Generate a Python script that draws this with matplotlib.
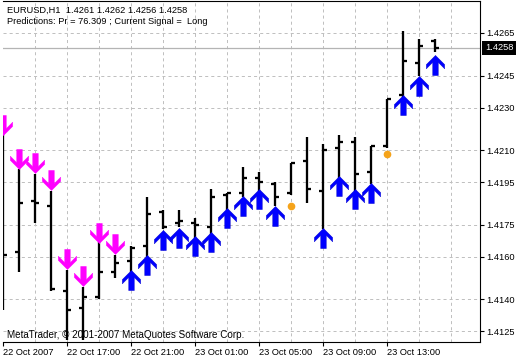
import numpy as np
import matplotlib
matplotlib.use("Agg")
import matplotlib.pyplot as plt
import matplotlib.transforms as mtransforms
from matplotlib.path import Path

plt.rcParams.update({
    "font.family": ["Liberation Sans", "DejaVu Sans"],
    "font.size": 6.7,
    "lines.scale_dashes": False,
})

# ── EURUSD H1 bars, 22 Oct 2007 13:00 onwards ──
opens = [1.4165, 1.4162, 1.4186, 1.4184, 1.4144, 1.4136, 1.4141, 1.4153, 1.4158, 1.4165,
         1.4181, 1.4176, 1.4176, 1.4174, 1.4189, 1.4190, 1.4197, 1.4194, 1.4190, 1.4205,
         1.4191, 1.4211, 1.4214, 1.4200, 1.4212, 1.4236, 1.4251, 1.4261]
highs = [1.4218, 1.4201, 1.4199, 1.4191, 1.4154, 1.4146, 1.4167, 1.4161, 1.4165, 1.4188,
         1.4182, 1.4182, 1.4178, 1.4192, 1.4190, 1.4202, 1.4200, 1.4195, 1.4204, 1.4216,
         1.4213, 1.4217, 1.4216, 1.4212, 1.4234, 1.4266, 1.4262, 1.4262]
lows = [1.4135, 1.4153, 1.4176, 1.4144, 1.4121, 1.4121, 1.4140, 1.4150, 1.4153, 1.4160,
        1.4173, 1.4174, 1.4169, 1.4170, 1.4182, 1.4188, 1.4191, 1.4184, 1.4189, 1.4185,
        1.4173, 1.4196, 1.4191, 1.4194, 1.4211, 1.4235, 1.4245, 1.4256]
closes = [1.4161, 1.4185, 1.4185, 1.4145, 1.4135, 1.4141, 1.4153, 1.4157, 1.4164, 1.4180,
          1.4174, 1.4177, 1.4175, 1.4188, 1.4190, 1.4197, 1.4195, 1.4188, 1.4204, 1.4192,
          1.4210, 1.4214, 1.4199, 1.4212, 1.4234, 1.4252, 1.4259, 1.4258]

nan = np.nan
# short signals (magenta, above bars) and long signals (blue, below bars)
sell_arrows = [1.4222, 1.4206, 1.4204, 1.4196, 1.4159, 1.4151, 1.4171, 1.4166] + [nan] * 20
buy_arrows = [nan] * 8 + [1.4149, 1.4156, 1.4168, 1.4169, 1.4165, 1.4167, 1.4178, 1.4184,
                          1.4187, 1.4179, nan, nan, 1.4169, 1.4193, 1.4187, 1.4190,
                          nan, 1.4231, 1.4240, 1.4250]
dots = [nan] * 18 + [1.4184] + [nan] * 5 + [1.4208] + [nan] * 3

price_ticks = [1.4125, 1.4140, 1.4160, 1.4175, 1.4195, 1.4210, 1.4230, 1.4245, 1.4265]
time_labels = ["22 Oct 2007", "22 Oct 17:00", "22 Oct 21:00", "23 Oct 01:00",
               "23 Oct 05:00", "23 Oct 09:00", "23 Oct 13:00"]
last_price = 1.4258

header = "EURUSD,H1  1.4261 1.4262 1.4256 1.4258"
predictions = "Predictions: Pr = 76.309 ; Current Signal =  Long"
copyright = "MetaTrader, \u00a9 2001-2007 MetaQuotes Software Corp."


def arrow_path(up=True):
    v = [(0, 0.55), (0.5, 0.05), (0.5, -0.18), (0.15, 0.17), (0.15, -0.55),
         (-0.15, -0.55), (-0.15, 0.17), (-0.5, -0.18), (-0.5, 0.05), (0, 0.55)]
    v = np.array(v)
    if not up:
        v[:, 1] *= -1
    codes = [Path.MOVETO] + [Path.LINETO] * (len(v) - 2) + [Path.CLOSEPOLY]
    return Path(v, codes)


W, H = 520, 360
fig = plt.figure(figsize=(5.2, 3.6), dpi=100)
ax = fig.add_axes([3 / W, 18 / H, 477 / W, 341 / H])

x = np.arange(len(opens))
ax.set_xlim(0, 477 / 16)
ax.set_ylim(1.4120, 1.4280)

# grid
grid_kw = dict(color="#c0c0c0", lw=0.72, dashes=(2.2, 2.2), zorder=0)
for p in price_ticks:
    ax.axhline(p, **grid_kw)
for xi in range(2, 30, 2):
    ax.axvline(xi, **grid_kw)
ax.axhline(last_price, color="#b4b4b4", lw=0.9, zorder=0)

# OHLC bars
tick = 0.28
bar_kw = dict(color="black", lw=1.65, capstyle="butt", zorder=2)
ax.vlines(x, lows, highs, **bar_kw)
ax.hlines(opens, x - tick, x, **bar_kw)
ax.hlines(closes, x, x + tick, **bar_kw)

# signals
ax.plot(x, sell_arrows, ls="none", marker=arrow_path(False), ms=14.5,
        mfc="#ff00ff", mec="#ff00ff", mew=0.3, zorder=3)
ax.plot(x, buy_arrows, ls="none", marker=arrow_path(True), ms=14.5,
        mfc="#0000ff", mec="#0000cc", mew=0.3, zorder=3)
ax.plot(x, dots, ls="none", marker="o", ms=4.5, mfc="#f5a31a", mec="#f5a31a", zorder=3)

# axes styling
for side in ["top", "right", "bottom"]:
    ax.spines[side].set_linewidth(0.8)
ax.spines["left"].set_visible(False)

ax.yaxis.tick_right()
ax.set_yticks(price_ticks)
ax.set_yticklabels([f"{p:.4f}" for p in price_ticks])
ax.tick_params(axis="y", direction="out", length=3, width=0.8, pad=1.5, labelsize=6.7)

ax.set_xticks(list(range(0, len(opens), 4)))
ax.set_xticklabels(time_labels, ha="left")
ax.tick_params(axis="x", direction="out", length=3, width=0.8, pad=1.5, labelsize=6.7)

# current price tag
trans = mtransforms.blended_transform_factory(ax.transAxes, ax.transData)
ax.text(1 + 5 / 477, last_price, f"{last_price:.4f}", transform=trans, ha="left",
        va="center", color="white", fontsize=6.7, zorder=5,
        bbox=dict(facecolor="black", edgecolor="none", pad=1.8), clip_on=False)

fig.text(7 / W, 1 - 10 / H, header, ha="left", va="center", fontsize=6.7)
fig.text(7 / W, 1 - 21 / H, predictions, ha="left", va="center", fontsize=6.7)
fig.text(7 / W, 1 - 335 / H, copyright, ha="left", va="center", fontsize=7.1)

fig.savefig("out.png", dpi=100)
